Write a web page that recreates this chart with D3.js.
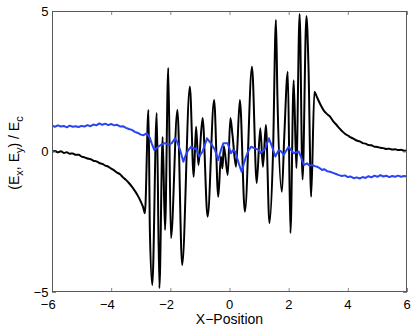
<!DOCTYPE html>
<html><head><meta charset="utf-8">
<script src="https://cdn.jsdelivr.net/npm/d3@7"></script>
<style>body{margin:0;background:#fff}svg{display:block}</style>
</head><body>
<svg id="c" width="415" height="330"></svg>
<script>
const xTicks = [-6, -4, -2, 0, 2, 4, 6];
const yTicks = [-5, 0, 5];
const xDomain = [-6, 6];
const yDomain = [-5, 5];

// Ex (black): left tail, oscillating core, right tail
const blackLeft = [
  [-6.0,0.0],[-5.9,0.02],[-5.8,-0.03],[-5.7,0.01],[-5.6,-0.05],[-5.5,-0.03],[-5.4,-0.08],
  [-5.3,-0.07],[-5.2,-0.12],[-5.1,-0.12],[-5.0,-0.18],[-4.9,-0.21],[-4.8,-0.25],[-4.7,-0.27],
  [-4.6,-0.33],[-4.5,-0.35],[-4.4,-0.41],[-4.3,-0.44],[-4.2,-0.5],[-4.1,-0.54],[-4.0,-0.61],
  [-3.9,-0.67],[-3.8,-0.75],[-3.7,-0.81],[-3.6,-0.92],[-3.5,-1.01],[-3.4,-1.12],[-3.3,-1.25],
  [-3.2,-1.4],[-3.1,-1.57],[-3.0,-1.78],[-2.92,-1.98],[-2.86,-2.2]
];
const blackCore = [
  [-2.74,1.48],[-2.69,-2.9],[-2.61,-4.75],[-2.46,1.37],[-2.37,-4.86],[-2.26,0.52],
  [-2.18,-2.79],[-2.07,2.97],[-1.98,-3.08],[-1.76,1.48],[-1.6,-4.04],[-1.34,2.31],
  [-1.21,-0.9],[-1.13,0.88],[-1.05,-0.48],[-0.91,1.19],[-0.74,-2.32],[-0.52,1.83],
  [-0.38,-1.61],[-0.29,-0.18],[-0.24,-0.6],[-0.19,0.2],[-0.06,-0.84],[0.03,1.19],
  [0.1,0.6],[0.22,-0.54],[0.35,1.83],[0.52,-2.14],[0.76,3.02],[0.92,-1.12],
  [1.04,0.83],[1.13,-0.54],[1.23,0.94],[1.35,-2.55],[1.47,-0.1],[1.57,4.68],[1.62,1.95],
  [1.77,-1.43],[1.85,0.5],[1.97,2.84],[2.06,-2.9],[2.17,2.54],[2.26,-0.59],[2.37,4.89],
  [2.47,-1.0],[2.6,4.82],[2.67,3.02],[2.76,-1.61],[2.87,2.13]
];
const blackRight = [
  [2.95,1.95],[3.06,1.7],[3.2,1.44],[3.3,1.33],[3.4,1.24],[3.5,1.08],[3.6,0.97],[3.7,0.84],
  [3.8,0.73],[3.9,0.63],[4.0,0.57],[4.1,0.5],[4.2,0.45],[4.3,0.39],[4.4,0.36],[4.5,0.3],
  [4.6,0.28],[4.7,0.23],[4.8,0.22],[4.9,0.17],[5.0,0.16],[5.1,0.13],[5.2,0.12],[5.3,0.09],
  [5.4,0.1],[5.5,0.07],[5.6,0.08],[5.7,0.05],[5.8,0.06],[5.9,0.03],[6.0,0.05]
];

// Ey (blue)
const blueSeries = [
  [-6.0,0.92],[-5.9,0.88],[-5.8,0.93],[-5.7,0.89],[-5.6,0.91],[-5.5,0.86],[-5.4,0.92],
  [-5.3,0.88],[-5.2,0.9],[-5.1,0.87],[-5.0,0.91],[-4.9,0.89],[-4.8,0.94],[-4.7,0.9],
  [-4.6,0.96],[-4.5,0.93],[-4.4,1.0],[-4.3,0.95],[-4.2,0.99],[-4.1,0.94],[-4.0,0.98],
  [-3.9,0.93],[-3.8,0.95],[-3.7,0.89],[-3.6,0.9],[-3.5,0.84],[-3.4,0.8],[-3.3,0.77],
  [-3.2,0.7],[-3.1,0.66],[-3.0,0.6],[-2.9,0.58],[-2.8,0.65],[-2.7,0.5],[-2.63,0.29],
  [-2.54,0.05],[-2.41,0.17],[-2.3,0.25],[-2.18,0.3],[-2.05,0.24],[-1.95,0.3],[-1.84,0.47],
  [-1.75,0.3],[-1.67,0.05],[-1.56,-0.36],[-1.47,-0.1],[-1.39,0.05],[-1.3,0.17],[-1.2,0.1],
  [-1.13,0.11],[-1.02,-0.18],[-0.91,0.0],[-0.83,0.25],[-0.76,0.47],[-0.63,0.29],[-0.49,0.05],
  [-0.38,-0.3],[-0.29,0.05],[-0.21,0.29],[-0.06,0.29],[0.05,-0.06],[0.12,0.05],[0.19,0.0],
  [0.33,-0.48],[0.41,-0.72],[0.48,-0.45],[0.56,-0.18],[0.65,0.05],[0.73,0.17],[0.86,0.11],
  [1.0,0.05],[1.04,-0.06],[1.21,0.11],[1.33,0.47],[1.44,0.17],[1.55,-0.18],[1.66,0.05],
  [1.75,0.0],[1.83,-0.12],[2.0,0.17],[2.08,0.05],[2.17,-0.06],[2.34,0.0],[2.42,-0.2],
  [2.51,-0.48],[2.62,-0.42],[2.7,-0.5],[2.79,-0.48],[2.88,-0.52],[2.96,-0.54],[3.06,-0.6],
  [3.13,-0.66],[3.2,-0.63],[3.3,-0.7],[3.4,-0.72],[3.5,-0.76],[3.6,-0.8],[3.7,-0.84],
  [3.8,-0.87],[3.9,-0.85],[4.0,-0.91],[4.1,-0.89],[4.2,-0.95],[4.3,-0.92],[4.4,-0.96],
  [4.5,-0.91],[4.6,-0.94],[4.7,-0.88],[4.8,-0.92],[4.9,-0.86],[5.0,-0.9],[5.1,-0.84],
  [5.2,-0.89],[5.3,-0.86],[5.4,-0.91],[5.5,-0.87],[5.6,-0.9],[5.7,-0.86],[5.8,-0.9],
  [5.9,-0.87],[6.0,-0.89]
];

const xLabel = "X\u2212Position";

const svg = d3.select("#c");
const L = 52, R = 407, T = 11, B = 292;
const x = d3.scaleLinear().domain(xDomain).range([L, R]);
const y = d3.scaleLinear().domain(yDomain).range([B, T]);
const font = "'Liberation Sans', Arial, Helvetica, sans-serif";

svg.append("clipPath").attr("id", "clp")
  .append("rect").attr("x", L).attr("y", T).attr("width", R - L).attr("height", B - T);

const smoothLine = d3.line().x(d => x(d[0])).y(d => y(d[1])).curve(d3.curveMonotoneX);
const rawLine = d3.line().x(d => x(d[0])).y(d => y(d[1]));
const black = blackLeft.concat(blackCore, blackRight);

const g = svg.append("g").attr("clip-path", "url(#clp)");
g.append("path").datum(black).attr("d", smoothLine)
  .attr("fill", "none").attr("stroke", "#000").attr("stroke-width", 2).attr("stroke-linejoin", "round");
g.append("path").datum(blueSeries).attr("d", rawLine)
  .attr("fill", "none").attr("stroke", "#2a44f2").attr("stroke-width", 2).attr("stroke-linejoin", "round");

// ticks (inward, all four sides)
const tk = 4;
const axBottom = d3.axisBottom(x).tickValues(xTicks).tickSize(-tk).tickFormat("");
const axTop = d3.axisTop(x).tickValues(xTicks).tickSize(-tk).tickFormat("");
const axLeft = d3.axisLeft(y).tickValues(yTicks).tickSize(-tk).tickFormat("");
const axRight = d3.axisRight(y).tickValues(yTicks).tickSize(-tk).tickFormat("");
function styleAx(sel) {
  sel.select(".domain").remove();
  sel.selectAll(".tick line").attr("stroke", "#888").attr("stroke-width", 1);
}
svg.append("g").attr("transform", `translate(0,${B})`).call(axBottom).call(styleAx);
svg.append("g").attr("transform", `translate(0,${T})`).call(axTop).call(styleAx);
svg.append("g").attr("transform", `translate(${L},0)`).call(axLeft).call(styleAx);
svg.append("g").attr("transform", `translate(${R},0)`).call(axRight).call(styleAx);

// box
svg.append("rect").attr("x", L + 0.5).attr("y", T + 0.5).attr("width", R - L - 1).attr("height", B - T - 1)
  .attr("fill", "none").attr("stroke", "#5a5a5a").attr("stroke-width", 1);

const fmt = d3.format("d");
// x tick labels (digit centred on tick, minus hangs left)
svg.append("g").selectAll("text").data(xTicks).join("text")
  .attr("x", d => x(d) + 3.7).attr("y", 309)
  .attr("text-anchor", "end").attr("font-family", font).attr("font-size", 13).attr("fill", "#000")
  .text(d => fmt(d));
// y tick labels
svg.append("g").selectAll("text").data(yTicks).join("text")
  .attr("x", 48.5).attr("y", d => y(d) + 4.8)
  .attr("text-anchor", "end").attr("font-family", font).attr("font-size", 13).attr("fill", "#000")
  .text(d => fmt(d));

// x label
svg.append("text").attr("x", (L + R) / 2).attr("y", 324).attr("text-anchor", "middle")
  .attr("font-family", font).attr("font-size", 14).attr("fill", "#000").text(xLabel);

// y label with subscripts
const yl = svg.append("text").attr("transform", "translate(19,153) rotate(-90)")
  .attr("text-anchor", "middle").attr("font-family", font).attr("font-size", 14).attr("fill", "#000");
yl.append("tspan").text("(E");
yl.append("tspan").attr("dy", 4).attr("font-size", 11).text("x");
yl.append("tspan").attr("dy", -4).text(", E");
yl.append("tspan").attr("dy", 4).attr("font-size", 11).text("y");
yl.append("tspan").attr("dy", -4).text(") / E");
yl.append("tspan").attr("dy", 4).attr("font-size", 11).text("c");
</script>
</body></html>
